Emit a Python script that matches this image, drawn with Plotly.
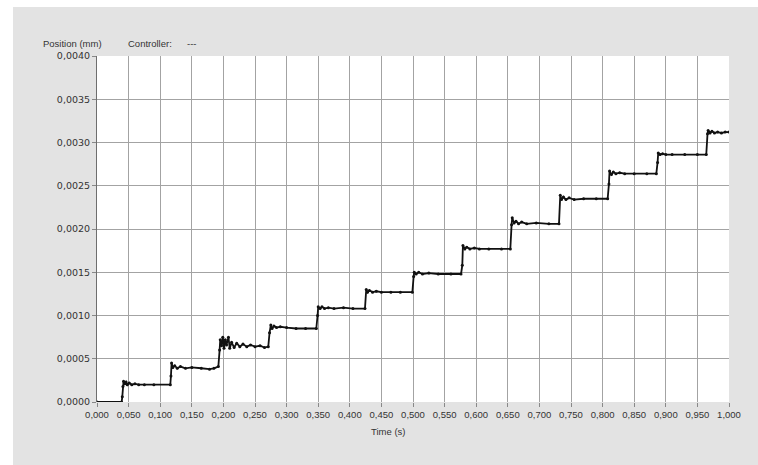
import plotly.graph_objects as go

# Time (s) and position (mm) samples
time_s = [
    0.000, 0.039,
    0.040, 0.041, 0.042, 0.044, 0.046, 0.048, 0.051, 0.055, 0.060, 0.066, 0.075, 0.090, 0.116,
    0.117, 0.118, 0.120, 0.123, 0.127, 0.132, 0.140, 0.150, 0.165, 0.178, 0.185, 0.192,
    0.194, 0.195, 0.197, 0.199, 0.201, 0.203, 0.205, 0.208, 0.210, 0.213, 0.217, 0.221,
    0.226, 0.231, 0.237, 0.243, 0.250, 0.258, 0.265, 0.271,
    0.273, 0.275, 0.277, 0.280, 0.284, 0.290, 0.300, 0.315, 0.330, 0.347,
    0.349, 0.350, 0.353, 0.356, 0.360, 0.366, 0.375, 0.390, 0.405, 0.424,
    0.426, 0.428, 0.431, 0.436, 0.442, 0.450, 0.465, 0.480, 0.499,
    0.501, 0.502, 0.505, 0.509, 0.515, 0.525, 0.540, 0.560, 0.576,
    0.578, 0.579, 0.582, 0.585, 0.590, 0.597, 0.605, 0.620, 0.640, 0.654,
    0.656, 0.657, 0.660, 0.663, 0.667, 0.672, 0.680, 0.695, 0.715, 0.731,
    0.733, 0.735, 0.738, 0.742, 0.747, 0.755, 0.770, 0.790, 0.808,
    0.810, 0.811, 0.814, 0.817, 0.821, 0.827, 0.835, 0.850, 0.870, 0.885,
    0.887, 0.888, 0.891, 0.895, 0.900, 0.910, 0.930, 0.950, 0.964,
    0.966, 0.967, 0.970, 0.973, 0.977, 0.982, 0.988, 0.994, 1.000,
]
position_mm = [
    0.00000, 0.00000,
    0.00006, 0.00018, 0.00024, 0.00021, 0.00023, 0.00020, 0.00022, 0.00020, 0.00021, 0.00020, 0.00020, 0.00020, 0.00020,
    0.00030, 0.00045, 0.00040, 0.00042, 0.00039, 0.00041, 0.00039, 0.00040, 0.00039, 0.00038, 0.00039, 0.00041,
    0.00060, 0.00072, 0.00065, 0.00075, 0.00062, 0.00072, 0.00066, 0.00075, 0.00062, 0.00069, 0.00063, 0.00068,
    0.00064, 0.00067, 0.00064, 0.00066, 0.00064, 0.00065, 0.00063, 0.00064,
    0.00080, 0.00089, 0.00085, 0.00088, 0.00086, 0.00087, 0.00086, 0.00085, 0.00085, 0.00085,
    0.00100, 0.00110, 0.00108, 0.00110, 0.00108, 0.00109, 0.00108, 0.00109, 0.00108, 0.00108,
    0.00130, 0.00127, 0.00129, 0.00127, 0.00128, 0.00127, 0.00127, 0.00127, 0.00127,
    0.00145, 0.00150, 0.00148, 0.00150, 0.00148, 0.00149, 0.00148, 0.00148, 0.00148,
    0.00158, 0.00181, 0.00177, 0.00179, 0.00177, 0.00178, 0.00177, 0.00177, 0.00177, 0.00177,
    0.00205, 0.00213, 0.00207, 0.00209, 0.00206, 0.00208, 0.00206, 0.00207, 0.00206, 0.00206,
    0.00239, 0.00234, 0.00237, 0.00234, 0.00236, 0.00234, 0.00235, 0.00235, 0.00235,
    0.00252, 0.00267, 0.00263, 0.00266, 0.00264, 0.00265, 0.00264, 0.00264, 0.00264, 0.00264,
    0.00277, 0.00288, 0.00286, 0.00287, 0.00286, 0.00286, 0.00286, 0.00286, 0.00286,
    0.00310, 0.00314, 0.00311, 0.00313, 0.00311, 0.00312, 0.00311, 0.00312, 0.00312,
]

x_ticks = [i * 0.05 for i in range(21)]
y_ticks = [i * 0.0005 for i in range(9)]

W, H = 758, 465
L, R, T, B = 97, 29, 56, 63
pw, ph = W - L - R, H - T - B

def px(x):
    return (x - L) / pw

def py(y):
    return (H - B - y) / ph

fig = go.Figure()
fig.add_trace(go.Scatter(
    x=time_s, y=position_mm, mode="lines+markers",
    line=dict(color="#111111", width=1.8),
    marker=dict(color="#111111", size=3),
    showlegend=False,
))

font = dict(family="Liberation Sans, Arial, sans-serif", size=9.5, color="#333333")
yfont = dict(family="DejaVu Sans, Verdana, sans-serif", size=9.5, color="#333333")

fig.update_layout(
    width=W, height=H,
    margin=dict(l=L, r=R, t=T, b=B),
    paper_bgcolor="#e3e3e3",
    plot_bgcolor="#ffffff",
    separators=",.",
    font=font,
    xaxis=dict(
        range=[0, 1], tickvals=x_ticks, tickformat=".3f",
        showgrid=True, gridcolor="#a3a3a3", gridwidth=1,
        zeroline=False, showline=False,
        ticks="outside", ticklen=4, tickcolor="#888888",
        tickfont=font, fixedrange=True,
    ),
    yaxis=dict(
        range=[0, 0.004], tickvals=y_ticks, tickformat=".4f",
        showgrid=True, gridcolor="#a3a3a3", gridwidth=1,
        zeroline=False, showline=True, linecolor="#6e6e6e", linewidth=1,
        ticks="outside", ticklen=4, tickcolor="#888888",
        tickfont=yfont, fixedrange=True,
    ),
    shapes=[
        dict(type="rect", xref="paper", yref="paper",
             x0=px(0), x1=px(13), y0=py(H), y1=py(0),
             fillcolor="#ffffff", line=dict(width=0), layer="below"),
        dict(type="rect", xref="paper", yref="paper",
             x0=px(0), x1=px(W), y0=py(7), y1=py(0),
             fillcolor="#ffffff", line=dict(width=0), layer="below"),
    ],
    annotations=[
        dict(text="Position (mm)", xref="paper", yref="paper",
             x=px(41), y=py(43), xanchor="left", yanchor="middle",
             showarrow=False, font=font),
        dict(text="Controller:", xref="paper", yref="paper",
             x=px(126), y=py(44), xanchor="left", yanchor="middle",
             showarrow=False, font=font),
        dict(text="---", xref="paper", yref="paper",
             x=px(185), y=py(44), xanchor="left", yanchor="middle",
             showarrow=False, font=font),
        dict(text="Time (s)", xref="paper", yref="paper",
             x=px(388), y=py(432), xanchor="center", yanchor="middle",
             showarrow=False, font=font),
    ],
)

fig.write_html(
    "out.html",
    config={"displayModeBar": False},
    post_script="document.body.style.margin='0';document.body.style.overflow='hidden';",
)
